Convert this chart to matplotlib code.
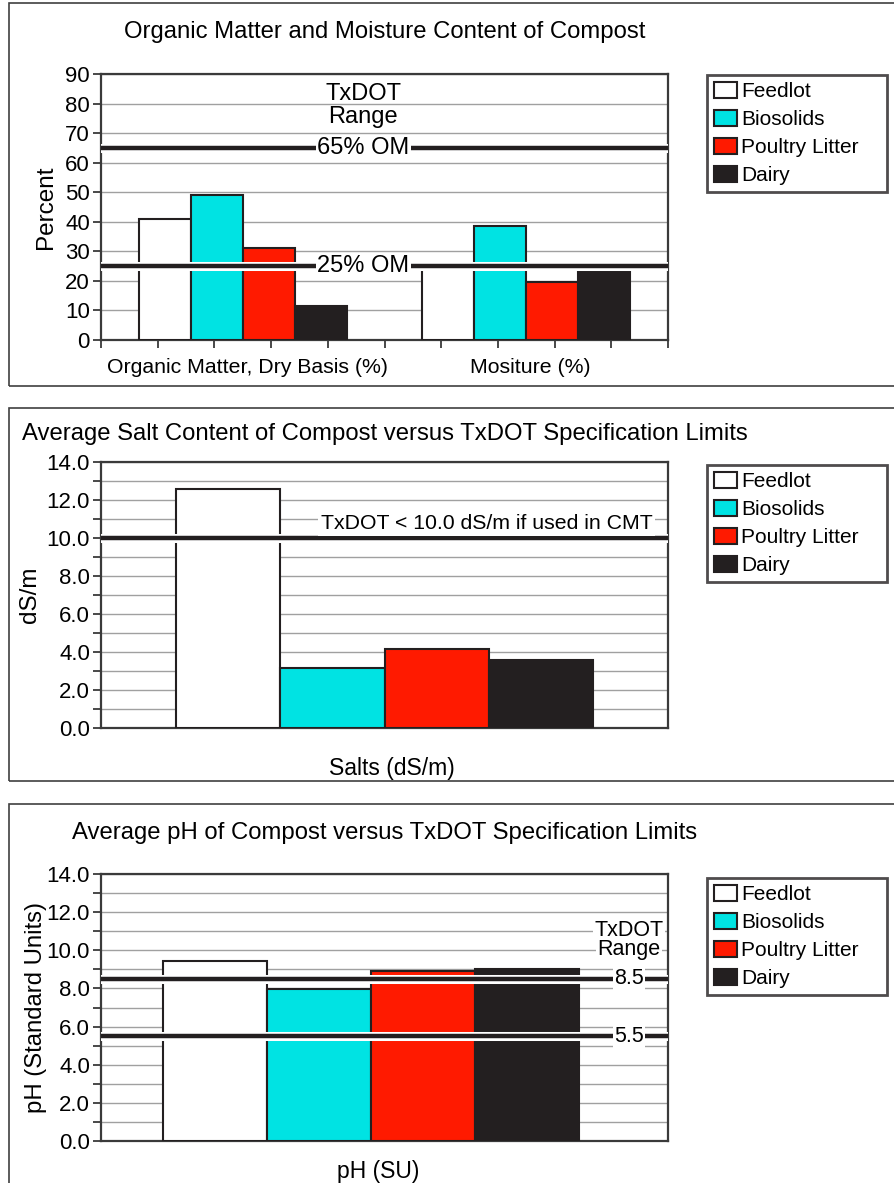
import numpy as np
import matplotlib.pyplot as plt
import matplotlib.patheffects as pe
from matplotlib.patches import Rectangle, Patch
from matplotlib.ticker import MultipleLocator, FixedLocator

plt.rcParams['font.family'] = ['Liberation Sans', 'DejaVu Sans']

# Compost sources and colours
sources = ['Feedlot', 'Biosolids', 'Poultry Litter', 'Dairy']
colors = ['#FFFFFF', '#00E3E3', '#FF1A00', '#231F20']

# Organic matter / moisture (%)
om_groups = ['Organic Matter, Dry Basis (%)', 'Mositure (%)']
om_values = {
    'Feedlot': [41.0, 25.0],
    'Biosolids': [49.0, 38.6],
    'Poultry Litter': [31.2, 19.7],
    'Dairy': [11.5, 23.3],
}
om_limits = [65, 25]
om_limit_labels = ['65% OM', '25% OM']

# Salts (dS/m)
salt_values = [12.6, 3.15, 4.15, 3.6]
salt_limit = 10.0

# pH (SU)
ph_values = [9.45, 7.95, 8.93, 9.0]
ph_limits = [8.5, 5.5]

EDGE = '#231F20'
SPINE = '#3A3A3A'
GRID = '#A0A0A0'
BAR_W = 0.1835

W, H = 894, 1183
fig = plt.figure(figsize=(W / 100, H / 100), dpi=100)


def fx(px):
    return px / W


def fy(py):
    return 1 - py / H


def make_axes(top, bottom):
    ax = fig.add_axes([fx(101), fy(bottom), fx(668) - fx(101), fy(top) - fy(bottom)])
    ax.set_axisbelow(True)
    for s in ax.spines.values():
        s.set_color(SPINE)
        s.set_linewidth(1.6)
    ax.tick_params(axis='y', which='both', direction='out', length=6, width=1.3,
                   color=SPINE, labelsize=16, pad=2)
    return ax


def limit_line(ax, y):
    ax.axhline(y, color=EDGE, lw=3.2, zorder=4,
               path_effects=[pe.Stroke(linewidth=6.5, foreground='white'), pe.Normal()])


def add_legend(ax, top):
    handles = [Patch(facecolor=c, edgecolor=EDGE, linewidth=1.5) for c in colors]
    leg = ax.legend(handles, sources, loc='upper left',
                    bbox_to_anchor=(fx(707), fy(top), fx(887) - fx(707), 0.001),
                    bbox_transform=fig.transFigure, mode='expand',
                    fontsize=15, frameon=True, fancybox=False,
                    handlelength=1.1, handleheight=0.8, handletextpad=0.2,
                    labelspacing=0.42, borderpad=0.35, borderaxespad=0)
    leg.get_frame().set_edgecolor(EDGE)
    leg.get_frame().set_linewidth(2.0)
    return leg


def panel_box(top, bottom):
    fig.patches.append(Rectangle((fx(9), fy(bottom)), 1.2, fy(top) - fy(bottom),
                                 transform=fig.transFigure, fill=False,
                                 edgecolor='#404040', lw=1.2))


# ---- Panel 1: organic matter and moisture ----
panel_box(3, 386)
ax1 = make_axes(74, 340)
x = np.arange(len(om_groups))
for i, s in enumerate(sources):
    ax1.bar(x + (i - 1.5) * BAR_W, om_values[s], BAR_W, color=colors[i],
            edgecolor=EDGE, linewidth=1.5, zorder=3)
ax1.set_xlim(-0.5, 1.5)
ax1.set_ylim(0, 90)
ax1.yaxis.set_major_locator(MultipleLocator(10))
ax1.grid(axis='y', color=GRID, lw=1.0)
ax1.set_xticks(x + 0.015)
ax1.set_xticklabels(om_groups, fontsize=15.3)
ax1.xaxis.set_minor_locator(FixedLocator(np.linspace(-0.5, 1.5, 11)))
ax1.tick_params(axis='x', which='major', length=0, pad=13)
ax1.tick_params(axis='x', which='minor', direction='out', length=6, width=1.3, color=SPINE)
ax1.set_ylabel('Percent', fontsize=17.5, labelpad=6)
for y, lab in zip(om_limits, om_limit_labels):
    limit_line(ax1, y)
    ax1.text(0.425, y, lab, ha='center', va='center', fontsize=17, zorder=6,
             bbox=dict(facecolor='white', edgecolor='none', pad=1))
ax1.text(0.425, 79.3, 'TxDOT\nRange', ha='center', va='center', fontsize=17,
         linespacing=1.05, zorder=6)
fig.text(fx(385), fy(32), 'Organic Matter and Moisture Content of Compost',
         ha='center', va='center', fontsize=17.2)
add_legend(ax1, 76)

# ---- Panel 2: salts ----
panel_box(408, 781)
ax2 = make_axes(462, 728)
for i, v in enumerate(salt_values):
    ax2.bar((i - 1.5) * BAR_W, v, BAR_W, color=colors[i], edgecolor=EDGE,
            linewidth=1.5, zorder=3)
ax2.set_xlim(-0.5, 0.5)
ax2.set_ylim(0, 14)
ax2.yaxis.set_major_locator(MultipleLocator(2))
ax2.yaxis.set_minor_locator(MultipleLocator(1))
ax2.yaxis.set_major_formatter('{x:.1f}')
ax2.grid(axis='y', which='both', color=GRID, lw=1.0)
ax2.set_xticks([0.013])
ax2.set_xticklabels(['Salts (dS/m)'], fontsize=16.5)
ax2.tick_params(axis='x', length=0, pad=21)
ax2.set_ylabel('dS/m', fontsize=17.5, labelpad=4)
limit_line(ax2, salt_limit)
ax2.text(0.473, 10.75, 'TxDOT < 10.0 dS/m if used in CMT', ha='right', va='center',
         fontsize=15.3, zorder=6, bbox=dict(facecolor='white', edgecolor='none', pad=2))
fig.text(fx(385), fy(434), 'Average Salt Content of Compost versus TxDOT Specification Limits',
         ha='center', va='center', fontsize=17.2)
add_legend(ax2, 466)

# ---- Panel 3: pH ----
panel_box(804, 1300)
ax3 = make_axes(874, 1141)
for i, v in enumerate(ph_values):
    ax3.bar((i - 1.5) * BAR_W, v, BAR_W, color=colors[i], edgecolor=EDGE,
            linewidth=1.5, zorder=3)
ax3.set_xlim(-0.476, 0.524)
ax3.set_ylim(0, 14)
ax3.yaxis.set_major_locator(MultipleLocator(2))
ax3.yaxis.set_minor_locator(MultipleLocator(1))
ax3.yaxis.set_major_formatter('{x:.1f}')
ax3.grid(axis='y', which='both', color=GRID, lw=1.0)
ax3.set_xticks([0.012])
ax3.set_xticklabels(['pH (SU)'], fontsize=16.5)
ax3.tick_params(axis='x', length=0, pad=14)
ax3.set_ylabel('pH (Standard Units)', fontsize=17.2, labelpad=0)
x_lab = (629 - 101) / 567 - 0.476
for y in ph_limits:
    limit_line(ax3, y)
    ax3.text(x_lab, y, f'{y:.1f}', ha='center', va='center', fontsize=15.5, zorder=6,
             bbox=dict(facecolor='white', edgecolor='none', pad=1))
ax3.text(x_lab, 11.05, 'TxDOT', ha='center', va='center', fontsize=15.5, zorder=6,
         bbox=dict(facecolor='white', edgecolor='none', pad=1))
ax3.text(x_lab, 10.05, 'Range', ha='center', va='center', fontsize=15.5, zorder=6,
         bbox=dict(facecolor='white', edgecolor='none', pad=1))
fig.text(fx(385), fy(833), 'Average pH of Compost versus TxDOT Specification Limits',
         ha='center', va='center', fontsize=17.2)
add_legend(ax3, 879)

fig.savefig('out.png', dpi=100)
